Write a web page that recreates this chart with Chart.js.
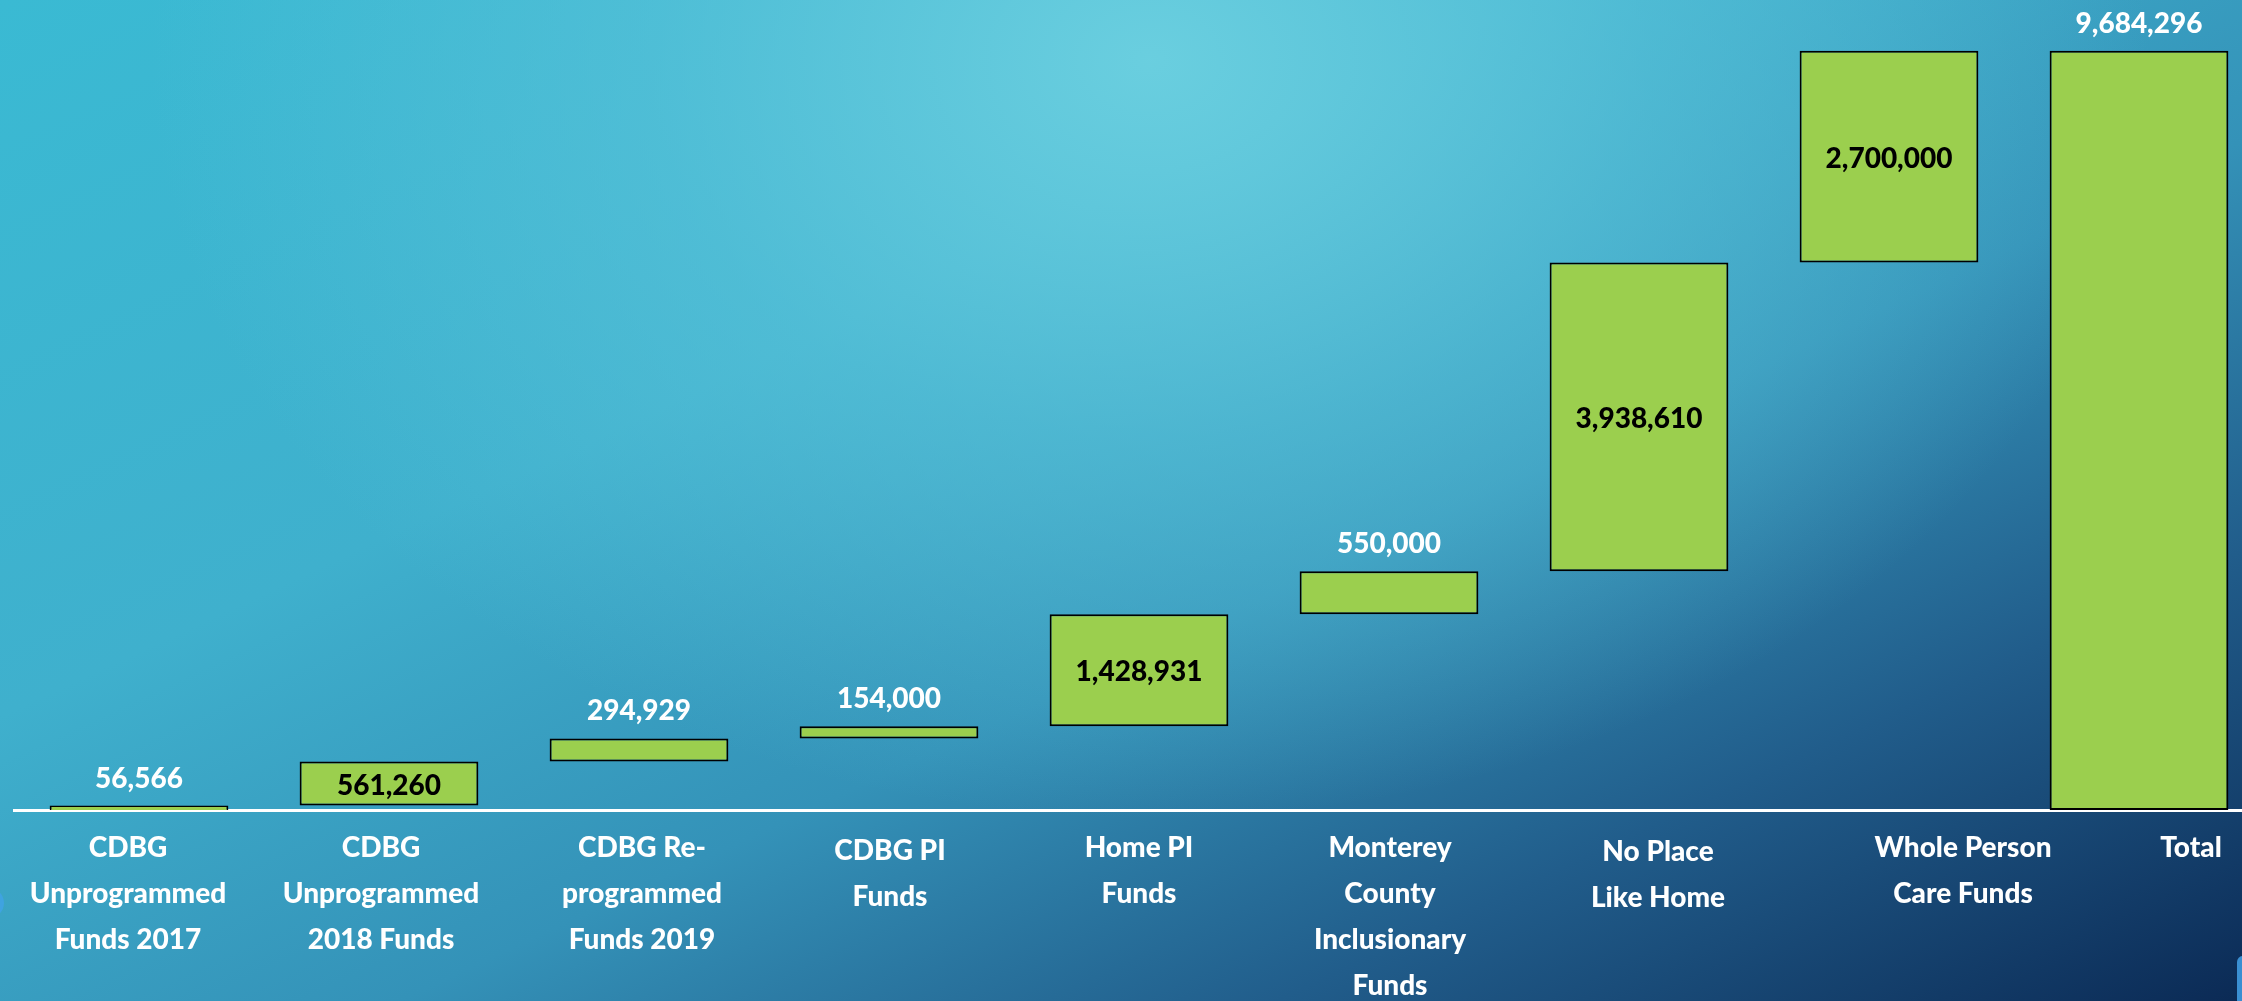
<!DOCTYPE html>
<html lang="en">
<head>
    <meta charset="UTF-8">
    <title>Funding Waterfall</title>
    <script src="https://cdn.jsdelivr.net/npm/chart.js"></script>
    <style>
        html, body {
            margin: 0;
            padding: 0;
            width: 2242px;
            height: 1001px;
            overflow: hidden;
        }

        body {
            position: relative;
            background:
                radial-gradient(ellipse 1250px 950px at 1150px 60px, rgba(108, 208, 224, 0.95) 0%, rgba(90, 196, 218, 0.6) 40%, rgba(70, 180, 210, 0) 80%),
                linear-gradient(155deg, #3abad3 0%, #3fb0cd 35%, #3492b8 58%, #215d8b 78%, #0b2a55 100%);
        }

        .chart-container {
            position: absolute;
            left: 0;
            top: 0;
            width: 2264px; /* plot runs slightly past the right edge, like the slide */
            height: 1001px;
        }

        .dot {
            position: absolute;
            left: -26px;
            top: 888px;
            width: 30px;
            height: 30px;
            border-radius: 50%;
            background: #3fa3e0;
        }

        .corner {
            position: absolute;
            left: 2237px;
            top: 956px;
            width: 12px;
            height: 50px;
            border-top-left-radius: 6px;
            background: #3a8fd2;
        }
    </style>
</head>
<body>
    <div class="dot"></div>
    <div class="corner"></div>
    <div class="chart-container">
        <canvas id="waterfallChart"></canvas>
    </div>

    <script>
        // data
        const categories = [
            ['CDBG', 'Unprogrammed', 'Funds 2017'],
            ['CDBG', 'Unprogrammed', '2018 Funds'],
            ['CDBG Re-', 'programmed', 'Funds 2019'],
            ['CDBG PI', 'Funds'],
            ['Home PI', 'Funds'],
            ['Monterey', 'County', 'Inclusionary', 'Funds'],
            ['No Place', 'Like Home'],
            ['Whole Person', 'Care Funds'],
            ['Total'],
        ];
        const amounts = [56566, 561260, 294929, 154000, 1428931, 550000, 3938610, 2700000];
        const total = 9684296;

        // label layout (not data)
        const valueInside = [false, true, false, false, true, false, true, true, false];
        const labelShiftX = [-11, -8, 3, 1, 0, 1, 19, 74, 52];
        const labelShiftY = [0, 0, 0, 3, 0, 0, 4, 0, 0];

        // floating ranges for the waterfall
        const ranges = [];
        let running = 0;
        amounts.forEach(v => {
            ranges.push([running, running + v]);
            running += v;
        });
        ranges.push([0, total]);
        const values = amounts.concat([total]);

        const fontFamily = 'Lato, "Open Sans", sans-serif';

        const labelPlugin = {
            id: 'waterfallLabels',
            afterDatasetsDraw(chart) {
                const ctx = chart.ctx;
                const meta = chart.getDatasetMeta(0);
                const xScale = chart.scales.x;
                ctx.save();
                ctx.font = '900 28px ' + fontFamily;
                ctx.textAlign = 'center';
                ctx.textBaseline = 'middle';

                // value labels
                meta.data.forEach((bar, i) => {
                    const top = Math.min(bar.y, bar.base);
                    const bottom = Math.max(bar.y, bar.base);
                    const text = values[i].toLocaleString('en-US');
                    if (valueInside[i]) {
                        ctx.fillStyle = '#000000';
                        ctx.fillText(text, bar.x, (top + bottom) / 2 + 2);
                    } else {
                        ctx.fillStyle = '#ffffff';
                        ctx.fillText(text, bar.x, top - 27);
                    }
                });

                // category labels under the baseline
                ctx.fillStyle = '#ffffff';
                ctx.textBaseline = 'alphabetic';
                categories.forEach((lines, i) => {
                    const x = xScale.getPixelForValue(i) + labelShiftX[i];
                    lines.forEach((line, j) => {
                        ctx.fillText(line, x, 857 + labelShiftY[i] + j * 46);
                    });
                });
                ctx.restore();
            },
        };

        const ctx = document.getElementById('waterfallChart').getContext('2d');
        const waterfallChart = new Chart(ctx, {
            type: 'bar',
            data: {
                labels: categories.map(c => c.join(' ')),
                datasets: [
                    {
                        data: ranges,
                        backgroundColor: '#9bcf4e',
                        borderColor: '#000000',
                        // the first bar is only a few pixels tall, keep its bottom edge open
                        borderWidth: (c) => c.dataIndex === 0 ? { top: 1.5, left: 2, right: 2, bottom: 0 } : 2,
                        borderSkipped: false,
                        categoryPercentage: 0.715,
                        barPercentage: 1.0,
                    },
                ],
            },
            options: {
                responsive: true,
                maintainAspectRatio: false,
                animation: false,
                layout: { padding: { left: 14, right: 0, top: 26, bottom: 191 } },
                scales: {
                    x: {
                        grid: { display: false, drawTicks: false },
                        border: { display: true, color: '#ffffff', width: 3 },
                        ticks: { display: false },
                    },
                    y: {
                        display: false,
                        min: 0,
                        max: 10000000,
                    },
                },
                plugins: {
                    legend: { display: false },
                    tooltip: { enabled: false },
                },
            },
            plugins: [labelPlugin],
        });
    </script>
</body>
</html>
